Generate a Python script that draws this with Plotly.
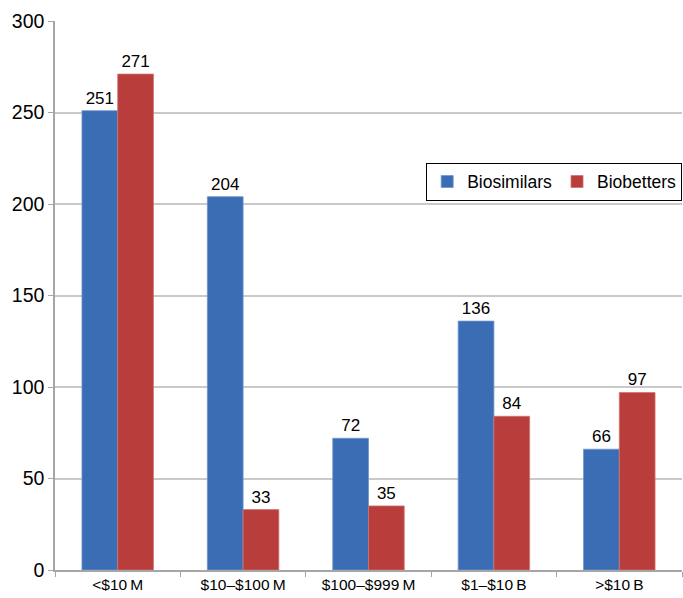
import plotly.graph_objects as go

# Revenue bands and counts of products in each band
categories = ["<$10\u202fM", "$10\u2013$100\u202fM", "$100\u2013$999\u202fM", "$1\u2013$10\u202fB", ">$10\u202fB"]
biosimilars = [251, 204, 72, 136, 66]
biobetters = [271, 33, 35, 84, 97]
y_ticks = [0, 50, 100, 150, 200, 250, 300]

FONT = "Liberation Sans, Arial, Helvetica, sans-serif"
BLUE = "#3b6db5"
RED = "#b93d3b"

fig = go.Figure()
fig.add_trace(go.Bar(
    name="Biosimilars", x=categories, y=biosimilars,
    marker=dict(color=BLUE, line=dict(color="#6f96cc", width=0.8)),
    text=biosimilars, textposition="outside",
    textfont=dict(family=FONT, size=17, color="black"),
    cliponaxis=False,
))
fig.add_trace(go.Bar(
    name="Biobetters", x=categories, y=biobetters,
    marker=dict(color=RED, line=dict(color="#cf7472", width=0.8)),
    text=biobetters, textposition="outside",
    textfont=dict(family=FONT, size=17, color="black"),
    cliponaxis=False,
))

fig.update_layout(
    width=683, height=598,
    margin=dict(l=55, r=1, t=21, b=28, autoexpand=False),
    paper_bgcolor="white", plot_bgcolor="white",
    barmode="group", bargap=0.43, bargroupgap=0,
    font=dict(family=FONT, color="black"),
    showlegend=True,
    legend=dict(
        orientation="h", x=0.592, xanchor="left", y=0.742, yanchor="top",
        bgcolor="white", bordercolor="black", borderwidth=1,
        font=dict(family=FONT, size=17.5, color="black"),
        itemwidth=30, tracegroupgap=0,
    ),
    xaxis=dict(
        showline=True, linecolor="#a6a6a6", linewidth=1.5,
        ticks="outside", tickson="boundaries", ticklen=5, tickcolor="#a6a6a6",
        tickfont=dict(family=FONT, size=15.5, color="black"),
        showgrid=False,
    ),
    yaxis=dict(
        range=[0, 300], tickvals=y_ticks,
        showline=True, linecolor="#a6a6a6", linewidth=1.5,
        ticks="outside", ticklen=5, tickcolor="#a6a6a6",
        tickfont=dict(family=FONT, size=19.5, color="black"),
        showgrid=True, gridcolor="#c9c9c9", gridwidth=1.5,
        zeroline=False,
    ),
)

fig.write_html("out.html")
